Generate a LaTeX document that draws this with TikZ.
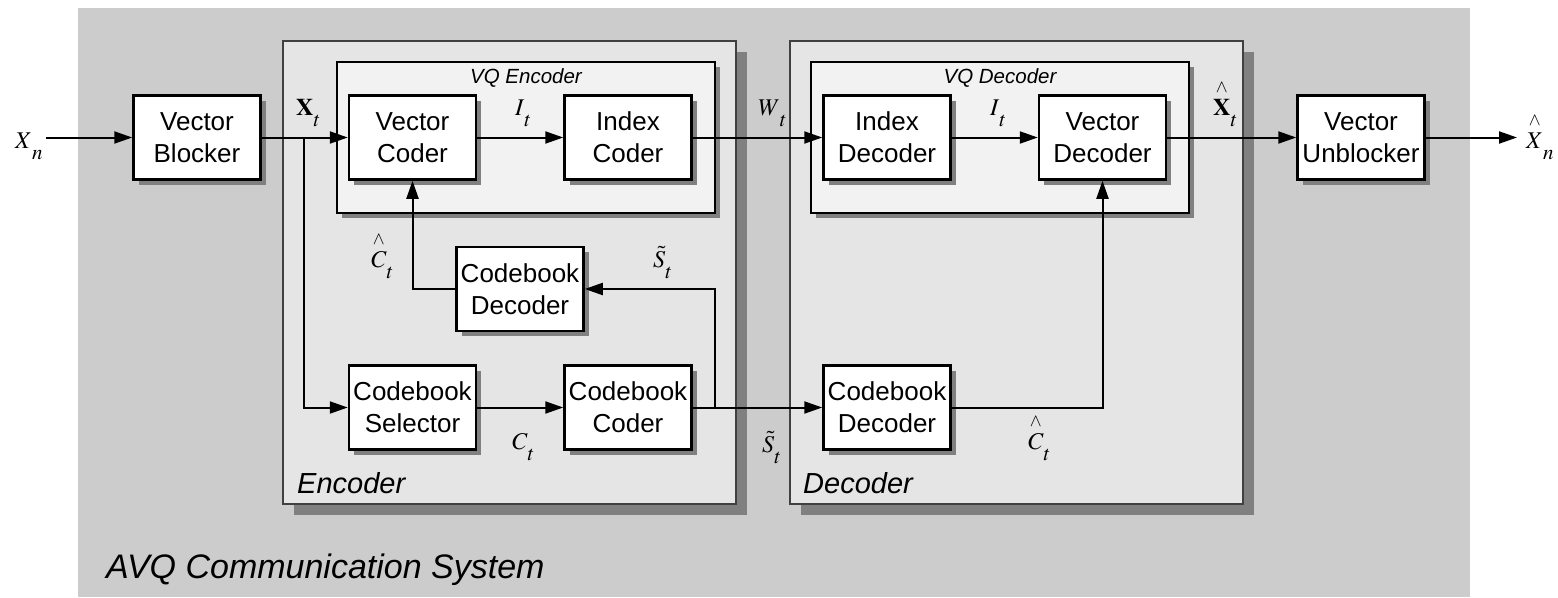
\documentclass[tikz,border=0pt]{standalone}
\usepackage{mathptmx}
\usepackage{amsmath}
\usepackage[no-math]{fontspec}
\setmainfont{Liberation Sans}
\usetikzlibrary{arrows.meta,shadows}

\definecolor{bgouter}{HTML}{CCCCCC}
\definecolor{bgunit}{HTML}{E5E5E5}
\definecolor{bgvq}{HTML}{F2F2F2}
\definecolor{shadowgray}{HTML}{808080}
\definecolor{unitline}{HTML}{404040}

% signal label: math symbol with a lowered subscript
\newcommand{\sig}[2]{{\fontsize{24}{30}\selectfont$#1$\raisebox{-11pt}{\fontsize{21}{24}\selectfont$#2$}}}
% detached caret over a symbol
\newcommand{\hatc}[1]{\overset{\raisebox{2pt}{$\scriptstyle\wedge$}}{#1}}

\tikzset{
  blk/.style={draw, line width=2.5pt, fill=white, minimum width=127pt,
    minimum height=84pt, align=center, inner sep=0pt,
    font=\fontsize{26}{32}\selectfont,
    drop shadow={shadow xshift=5pt, shadow yshift=-5pt, fill=shadowgray, opacity=1}},
  wire/.style={line width=2pt},
  flow/.style={wire, -{Triangle[length=18pt, width=12pt]}},
  lbl/.style={anchor=base west, inner sep=0pt},
  title/.style={anchor=base west, inner sep=0pt, font=\fontsize{29}{34}\selectfont\itshape},
}

\begin{document}
\begin{tikzpicture}[x=1pt, y=-1pt]
\useasboundingbox (0,0) rectangle (1558,597);

% system background
\fill[bgouter] (78,8) rectangle (1470,597);

% encoder and decoder units
\fill[shadowgray] (294,52) rectangle (747,515);
\draw[unitline, line width=1.5pt, fill=bgunit] (283,41) rectangle (736,504);
\fill[shadowgray] (801,52) rectangle (1254,515);
\draw[unitline, line width=1.5pt, fill=bgunit] (790,41) rectangle (1243,504);

% VQ sub-units
\fill[shadowgray] (342,67) rectangle (720,218);
\draw[line width=1.5pt, fill=bgvq] (337,62) rectangle (715,213);
\fill[shadowgray] (816,67) rectangle (1194,218);
\draw[line width=1.5pt, fill=bgvq] (811,62) rectangle (1189,213);

\node[anchor=base, inner sep=0pt, font=\fontsize{20.5}{24}\selectfont\itshape] (vqe) at (526,83) {VQ Encoder};
\node[anchor=base, inner sep=0pt, font=\fontsize{20.5}{24}\selectfont\itshape] (vqd) at (1000,83) {VQ Decoder};
\node[title] (enc) at (297,493) {Encoder};
\node[title] (dec) at (803,493) {Decoder};
\node[anchor=base west, inner sep=0pt, font=\fontsize{34}{40}\selectfont\itshape] (sys) at (106,578) {AVQ Communication System};

% blocks
\node[blk] (blocker) at (197,137.5) {Vector\\Blocker};
\node[blk] (vcoder)  at (412.5,137.5) {Vector\\Coder};
\node[blk] (icoder)  at (628,137.5) {Index\\Coder};
\node[blk] (cbdecA)  at (520,289) {Codebook\\Decoder};
\node[blk] (select)  at (412.5,407.5) {Codebook\\Selector};
\node[blk] (cbcoder) at (628,407.5) {Codebook\\Coder};
\node[blk] (idecoder) at (887,137.5) {Index\\Decoder};
\node[blk] (vdecoder) at (1102.5,137.5) {Vector\\Decoder};
\node[blk] (cbdecB)  at (887,407.5) {Codebook\\Decoder};
\node[blk] (unblock) at (1361,137.5) {Vector\\Unblocker};

% free ends and branch points
\coordinate (in)    at (46,137.5);
\coordinate (out)   at (1517,137.5);
\coordinate (split) at (304,137.5);
\coordinate (tap)   at (715,407.5);

% connectors
\draw[flow] (in) -- (blocker.west);
\draw[flow] (blocker.east) -- (vcoder.west);
\draw[flow] (split) |- (select.west);
\draw[flow] (vcoder.east) -- (icoder.west);
\draw[flow] (icoder.east) -- (idecoder.west);
\draw[flow] (idecoder.east) -- (vdecoder.west);
\draw[flow] (vdecoder.east) -- (unblock.west);
\draw[flow] (unblock.east) -- (out);
\draw[flow] (select.east) -- (cbcoder.west);
\draw[flow] (cbcoder.east) -- (cbdecB.west);
\draw[flow] (tap) |- (cbdecA.east);
\draw[flow] (cbdecA.west) -| (vcoder.south);
\draw[flow] (cbdecB.east) -| (vdecoder.south);

% signal labels
\node[lbl] (lxn)  at (15,148)  {\sig{X}{n}};
\node[lbl] (lxt)  at (296,115) {\sig{\mathbf{X}}{t}};
\node[lbl] (lit1) at (515,115) {\sig{I}{t}};
\node[lbl] (lwt)  at (758,115) {\sig{W}{t}};
\node[lbl] (lit2) at (990,115) {\sig{I}{t}};
\node[lbl] (lxht) at (1213,115) {\sig{\hatc{\mathbf{X}}}{t}};
\node[lbl] (lxhn) at (1526,148) {\sig{\hatc{X}}{n}};
\node[lbl] (lch1) at (371,267) {\sig{\hatc{C}}{t}};
\node[lbl] (lst1) at (653,267) {\sig{\tilde{S}}{t}};
\node[lbl] (lct)  at (512,449) {\sig{C}{t}};
\node[lbl] (lst2) at (762,452) {\sig{\tilde{S}}{t}};
\node[lbl] (lch2) at (1028,449) {\sig{\hatc{C}}{t}};
\end{tikzpicture}
\end{document}
